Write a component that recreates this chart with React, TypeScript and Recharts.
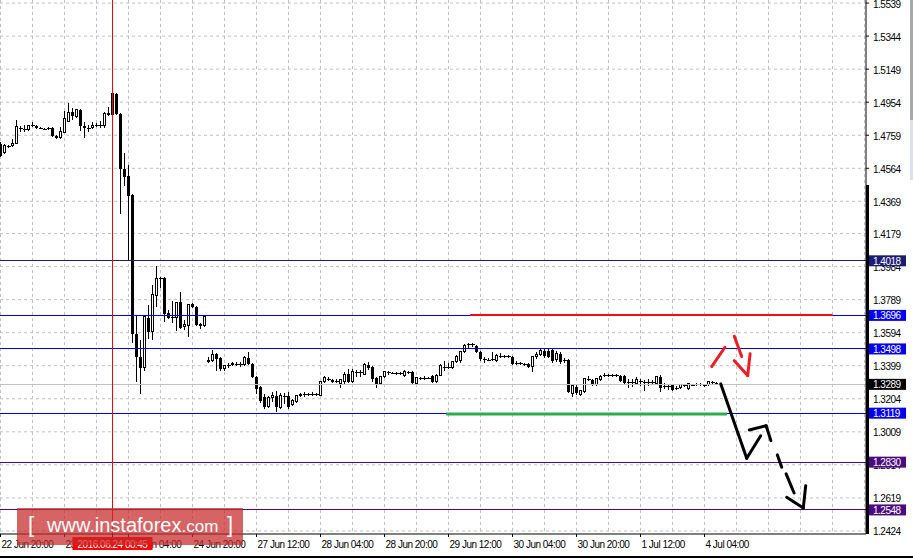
import React from "react";
import { ComposedChart, Bar, XAxis, YAxis, CartesianGrid, ReferenceLine } from "recharts";

// GBP/USD H1 candles, 22 Jun 20:00 .. 4 Jul 11:00 (one entry per hour)
const OPEN = [
  1.4707, 1.466, 1.469, 1.4696, 1.4713, 1.4802, 1.479, 1.479, 1.482, 1.4814,
  1.4802, 1.4796, 1.4802, 1.4802, 1.4755, 1.4743, 1.4778, 1.4843, 1.4896, 1.4867,
  1.4908, 1.4814, 1.4802, 1.4802, 1.4814, 1.482, 1.4814, 1.4879, 1.5008, 1.5003,
  1.4885, 1.456, 1.4519, 1.4407, 1.3586, 1.3451, 1.3386, 1.3681, 1.3598, 1.3811,
  1.3911, 1.3917, 1.371, 1.3681, 1.3681, 1.3775, 1.3628, 1.3634, 1.3763, 1.3746,
  1.3646, 1.3634, 1.3433, 1.3427, 1.3468, 1.3445, 1.338, 1.3398, 1.3404, 1.3404,
  1.3409, 1.3404, 1.3445, 1.3409, 1.3333, 1.3274, 1.3215, 1.3156, 1.3209, 1.3221,
  1.315, 1.3221, 1.3221, 1.3173, 1.3185, 1.3221, 1.3232, 1.3232, 1.3226, 1.3232,
  1.3226, 1.3303, 1.3315, 1.3315, 1.3309, 1.3292, 1.3303, 1.335, 1.3303, 1.3362,
  1.3356, 1.335, 1.3404, 1.3392, 1.3327, 1.3297, 1.3333, 1.3356, 1.3356, 1.3356,
  1.335, 1.3339, 1.3362, 1.3362, 1.3297, 1.3327, 1.3321, 1.3327, 1.3339, 1.3303,
  1.3344, 1.3392, 1.3392, 1.3386, 1.3421, 1.3427, 1.348, 1.3521, 1.3527, 1.3516,
  1.348, 1.3439, 1.3433, 1.3433, 1.3427, 1.3457, 1.3451, 1.3457, 1.3451, 1.3409,
  1.3415, 1.3409, 1.3409, 1.3392, 1.3451, 1.3463, 1.3486, 1.3486, 1.3492, 1.3433,
  1.3468, 1.3427, 1.3433, 1.3238, 1.3274, 1.3232, 1.3244, 1.3321, 1.3315, 1.3286,
  1.3315, 1.3339, 1.3344, 1.3339, 1.3344, 1.3339, 1.3339, 1.3297, 1.3303, 1.3297,
  1.3309, 1.3303, 1.3297, 1.3303, 1.3292, 1.3333, 1.3274, 1.328, 1.3286, 1.3262,
  1.3268, 1.3286, 1.3262, 1.3286, 1.3286, 1.3292, 1.3286, 1.3286, 1.3303, 1.3297,
];
const HIGH = [
  1.4719, 1.4707, 1.4702, 1.4737, 1.4849, 1.4814, 1.482, 1.482, 1.4837, 1.482,
  1.4808, 1.4802, 1.4808, 1.4808, 1.4761, 1.4808, 1.4902, 1.4949, 1.492, 1.4914,
  1.4914, 1.4837, 1.482, 1.4837, 1.4831, 1.4843, 1.4896, 1.4926, 1.5014, 1.5008,
  1.489, 1.4654, 1.4584, 1.4413, 1.3693, 1.3551, 1.3693, 1.3758, 1.3876, 1.3988,
  1.3923, 1.392, 1.3728, 1.3781, 1.3775, 1.3834, 1.3669, 1.3763, 1.3769, 1.3752,
  1.3651, 1.3693, 1.3451, 1.3492, 1.3474, 1.3451, 1.3404, 1.3415, 1.3421, 1.3421,
  1.3421, 1.3457, 1.348, 1.3415, 1.3339, 1.328, 1.3232, 1.3221, 1.3244, 1.325,
  1.3238, 1.3238, 1.3244, 1.3203, 1.3226, 1.3238, 1.3244, 1.3238, 1.3244, 1.3238,
  1.3309, 1.3339, 1.3333, 1.3321, 1.3321, 1.3321, 1.3362, 1.338, 1.338, 1.3374,
  1.3374, 1.3415, 1.3421, 1.3398, 1.3333, 1.3339, 1.3368, 1.3368, 1.3362, 1.3362,
  1.3362, 1.3374, 1.3368, 1.3368, 1.3333, 1.3333, 1.3339, 1.3333, 1.3344, 1.335,
  1.3409, 1.3427, 1.3415, 1.3427, 1.3463, 1.3486, 1.3527, 1.3533, 1.3533, 1.3521,
  1.3486, 1.3451, 1.3445, 1.348, 1.3468, 1.3474, 1.3463, 1.3463, 1.3457, 1.3427,
  1.3421, 1.3415, 1.3415, 1.3457, 1.348, 1.3498, 1.3498, 1.3498, 1.3498, 1.3486,
  1.348, 1.3445, 1.3439, 1.3286, 1.3286, 1.3256, 1.3327, 1.3339, 1.3321, 1.3327,
  1.3344, 1.3356, 1.335, 1.335, 1.335, 1.3344, 1.3344, 1.3321, 1.3321, 1.3333,
  1.3321, 1.3315, 1.3321, 1.3315, 1.3339, 1.3344, 1.3297, 1.3292, 1.3292, 1.328,
  1.3292, 1.3292, 1.3297, 1.3292, 1.3297, 1.3297, 1.3292, 1.3309, 1.3309, 1.3303,
];
const LOW = [
  1.4631, 1.4648, 1.4684, 1.469, 1.4707, 1.4778, 1.4778, 1.4784, 1.4808, 1.4796,
  1.4796, 1.479, 1.479, 1.4749, 1.4737, 1.4737, 1.4772, 1.4837, 1.4849, 1.4861,
  1.4784, 1.4743, 1.4778, 1.4796, 1.4808, 1.4802, 1.4802, 1.4873, 1.4873, 1.4879,
  1.4294, 1.446, 1.4023, 1.3533, 1.3303, 1.3232, 1.3368, 1.3557, 1.3551, 1.3746,
  1.3858, 1.3657, 1.3675, 1.3651, 1.3604, 1.3616, 1.361, 1.3569, 1.374, 1.3634,
  1.3616, 1.3628, 1.3415, 1.3421, 1.3368, 1.3368, 1.3368, 1.3386, 1.3398, 1.3398,
  1.3392, 1.3398, 1.3404, 1.3327, 1.3232, 1.3179, 1.3144, 1.315, 1.3185, 1.3126,
  1.3144, 1.3173, 1.3144, 1.3162, 1.3179, 1.3215, 1.3215, 1.3221, 1.3221, 1.3221,
  1.3221, 1.3297, 1.3309, 1.3297, 1.3297, 1.3268, 1.3292, 1.3297, 1.3297, 1.3333,
  1.3333, 1.3344, 1.3374, 1.3303, 1.3268, 1.3286, 1.3327, 1.3344, 1.335, 1.3344,
  1.3344, 1.3333, 1.335, 1.3292, 1.3292, 1.3315, 1.3315, 1.3321, 1.3297, 1.3297,
  1.3339, 1.3368, 1.338, 1.338, 1.3415, 1.3415, 1.3474, 1.3504, 1.351, 1.3474,
  1.3427, 1.3415, 1.3427, 1.3427, 1.3421, 1.3445, 1.3445, 1.3445, 1.3404, 1.3404,
  1.3404, 1.3398, 1.3386, 1.3362, 1.3439, 1.3457, 1.3445, 1.3445, 1.3415, 1.3421,
  1.3409, 1.3415, 1.3238, 1.3215, 1.3226, 1.3221, 1.3238, 1.3309, 1.328, 1.328,
  1.3309, 1.3333, 1.3333, 1.3333, 1.3333, 1.3303, 1.3292, 1.3268, 1.3274, 1.3286,
  1.328, 1.325, 1.328, 1.3292, 1.3286, 1.3244, 1.3262, 1.3256, 1.325, 1.3256,
  1.3262, 1.3274, 1.3256, 1.328, 1.328, 1.328, 1.3274, 1.328, 1.3292, 1.3286,
];
const CLOSE = [
  1.4637, 1.4696, 1.4696, 1.4713, 1.4808, 1.4796, 1.4796, 1.4814, 1.4814, 1.4802,
  1.48, 1.4794, 1.4796, 1.4755, 1.4743, 1.4784, 1.4855, 1.4896, 1.4873, 1.4908,
  1.4814, 1.4802, 1.4799, 1.4814, 1.482, 1.4814, 1.4885, 1.489, 1.4879, 1.4885,
  1.456, 1.4513, 1.4401, 1.3586, 1.3451, 1.3386, 1.3687, 1.3598, 1.3817, 1.3911,
  1.3917, 1.3704, 1.3681, 1.3684, 1.3772, 1.3622, 1.364, 1.376, 1.3746, 1.364,
  1.3634, 1.3687, 1.3421, 1.3468, 1.3439, 1.338, 1.3398, 1.3404, 1.3415, 1.3409,
  1.3404, 1.3445, 1.3409, 1.3333, 1.3262, 1.3191, 1.3156, 1.3209, 1.3221, 1.3156,
  1.3221, 1.3215, 1.3156, 1.3191, 1.3221, 1.3232, 1.3235, 1.3226, 1.3232, 1.3226,
  1.3303, 1.3327, 1.3321, 1.3303, 1.3304, 1.3315, 1.335, 1.3303, 1.3362, 1.3356,
  1.3362, 1.3409, 1.3386, 1.3321, 1.3292, 1.3333, 1.3362, 1.3362, 1.3353, 1.335,
  1.3356, 1.3362, 1.3356, 1.3297, 1.3327, 1.3321, 1.3327, 1.3324, 1.3303, 1.3344,
  1.3398, 1.3389, 1.3394, 1.3421, 1.3451, 1.348, 1.3521, 1.3527, 1.3521, 1.348,
  1.3439, 1.3433, 1.3434, 1.3439, 1.3457, 1.3451, 1.3457, 1.3451, 1.3409, 1.3415,
  1.3409, 1.3404, 1.3392, 1.3451, 1.3468, 1.3486, 1.3457, 1.3451, 1.3427, 1.3474,
  1.3421, 1.3433, 1.3244, 1.328, 1.3238, 1.325, 1.3321, 1.3315, 1.3286, 1.3321,
  1.3333, 1.3344, 1.3339, 1.3344, 1.3339, 1.3309, 1.3297, 1.3303, 1.33, 1.3315,
  1.3306, 1.3297, 1.3303, 1.33, 1.3333, 1.3268, 1.328, 1.3274, 1.3256, 1.3268,
  1.3286, 1.3283, 1.3292, 1.3287, 1.3292, 1.3286, 1.3283, 1.3303, 1.3297, 1.3289,
];

const TIME_LABELS = [
  "22 Jun 20:00", "23 Jun 12:00", "24 Jun 04:00", "24 Jun 20:00", "27 Jun 12:00", "28 Jun 04:00",
  "28 Jun 20:00", "29 Jun 12:00", "30 Jun 04:00", "30 Jun 20:00", "1 Jul 12:00", "4 Jul 04:00",
];
const LABEL_BARS = [0, 16, 32, 48, 64, 80, 96, 112, 128, 144, 160, 176];
const GRID_BARS = [0, 8, 16, 24, 32, 40, 48, 56, 64, 72, 80, 88, 96, 104, 112, 120, 128, 136, 144, 152, 160, 168, 176, 184, 192, 200, 208, 216];
const PRICE_TICKS = [
  1.5539, 1.5344, 1.5149, 1.4954, 1.4759, 1.4564, 1.4369, 1.4179, 1.3984, 1.3789,
  1.3594, 1.3399, 1.3204, 1.3009, 1.2814, 1.2619, 1.2424,
];

const LEVEL_PRICES = [1.4018, 1.3696, 1.3498, 1.3119, 1.283, 1.2548];
const LEVEL_COLORS = ["#1c1c72", "#0000f0", "#0000f0", "#0000f0", "#4b0a7e", "#4b0a7e"];
const BID = 1.3289;

const EVENT_BAR = 28;
const EVENT_LABEL = "2016.06.24 00:45";

// drawn trend lines: [bar, price] pairs
const RESISTANCE: [number, number][] = [[117.4, 1.3699], [208, 1.3699]];
const SUPPORT: [number, number][] = [[111.4, 1.3114], [181.6, 1.3114]];
const BLACK_PATHS: [number, number][][] = [
  [[180.05, 1.3292], [186.55, 1.2853], [190.05, 1.2986]],
  [[187.2, 1.302], [191.4, 1.3045], [192.6, 1.2957]],
  [[194.2, 1.2873], [195.3, 1.28]],
  [[196.4, 1.2761], [198.4, 1.2648]],
  [[196.55, 1.2623], [200.7, 1.256], [201.3, 1.2691]],
];
const RED_PATHS: [number, number][][] = [
  [[177.8, 1.3394], [181.1, 1.3508]],
  [[183.45, 1.3573], [185.3, 1.3453]],
  [[183.45, 1.3429], [186.8, 1.3341], [187.4, 1.3469]],
];

const FONT = "'Liberation Sans', Arial, sans-serif";

const candles = OPEN.map((o, i) => ({ i, open: o, high: HIGH[i], low: LOW[i], close: CLOSE[i] }));
// tags go last so they are painted over the plain tick labels
const Y_TICKS = [...PRICE_TICKS, BID, ...LEVEL_PRICES];
const X_TICKS = [...LABEL_BARS, EVENT_BAR];

function Candle(props: any) {
  const { x, y, width, height, payload } = props;
  if (!payload) return null;
  const { open, close, high, low } = payload;
  const top = Math.min(y, y + height);
  const h = Math.abs(height);
  const k = h / (high - low);
  const cx = Math.round(x + width / 2 - 0.5) + 0.5;
  const yO = top + (high - open) * k;
  const yC = top + (high - close) * k;
  const bTop = Math.min(yO, yC);
  const bBot = Math.max(yO, yC);
  const bull = close > open;
  return (
    <g shapeRendering="crispEdges">
      <line x1={cx} x2={cx} y1={top} y2={top + h} stroke="#000" strokeWidth={1} />
      {bBot - bTop < 1.2 ? (
        <line x1={cx - 2} x2={cx + 2} y1={Math.round(bTop) + 0.5} y2={Math.round(bTop) + 0.5} stroke="#000" />
      ) : bull ? (
        <rect x={cx - 1} y={bTop} width={2} height={bBot - bTop} fill="#fff" stroke="#000" strokeWidth={1} />
      ) : (
        <rect x={cx - 1.5} y={bTop} width={3} height={bBot - bTop} fill="#000" />
      )}
    </g>
  );
}

function PriceTick({ x, y, payload }: any) {
  const v = payload.value;
  const lvl = LEVEL_PRICES.indexOf(v);
  const color = v === BID ? "#000" : lvl >= 0 ? LEVEL_COLORS[lvl] : null;
  if (color) {
    return (
      <g>
        <rect x={x - 3} y={y - 5.5} width={38} height={11} fill={color} />
        <text x={x + 2} y={y + 4} fontSize={10} fontFamily={FONT} letterSpacing={-0.5} fill="#fff">
          {v.toFixed(4)}
        </text>
      </g>
    );
  }
  return (
    <text x={x + 2} y={y + 4.5} fontSize={10} fontFamily={FONT} letterSpacing={-0.5} fill="#000">
      {v.toFixed(4)}
    </text>
  );
}

function TimeTick({ x, y, payload }: any) {
  if (payload.value === EVENT_BAR) {
    return (
      <g>
        <rect x={x - 40} y={y - 2} width={80} height={13} fill="#ff0000" />
        <text x={x} y={y + 8.5} textAnchor="middle" fontSize={10} fontFamily={FONT} letterSpacing={-0.5} fill="#fff">
          {EVENT_LABEL}
        </text>
      </g>
    );
  }
  const label = TIME_LABELS[LABEL_BARS.indexOf(payload.value)];
  return (
    <text x={x + 1} y={y + 8.5} fontSize={10} fontFamily={FONT} letterSpacing={-0.5} fill="#000">
      {label}
    </text>
  );
}

function strokes(paths: [number, number][][], color: string, width: number, prefix: string) {
  const out: React.ReactNode[] = [];
  paths.forEach((p, pi) => {
    for (let j = 0; j < p.length - 1; j++) {
      out.push(
        <ReferenceLine
          key={`${prefix}-${pi}-${j}`}
          segment={[{ x: p[j][0], y: p[j][1] }, { x: p[j + 1][0], y: p[j + 1][1] }]}
          stroke={color}
          strokeWidth={width}
          strokeLinecap="round"
          ifOverflow="visible"
        />
      );
    }
  });
  return out;
}

export default function App() {
  return (
    <div style={{ position: "absolute", left: 0, top: 0, width: 913, height: 558, background: "#fff", overflow: "hidden" }}>
      <ComposedChart width={913} height={558} data={candles} margin={{ top: 0, right: 0, bottom: 0, left: 0 }}>
        <CartesianGrid
          stroke="#c0c0c0"
          strokeDasharray="3 3"
          verticalValues={GRID_BARS}
          horizontalValues={PRICE_TICKS}
        />
        <XAxis
          type="number"
          dataKey="i"
          domain={[-0.125, 216.375]}
          ticks={X_TICKS}
          interval={0}
          allowDataOverflow
          height={24}
          tickSize={3}
          tick={<TimeTick />}
          axisLine={{ stroke: "#000" }}
          tickLine={{ stroke: "#000" }}
        />
        <YAxis
          orientation="right"
          domain={[1.2406, 1.5557]}
          ticks={Y_TICKS}
          interval={0}
          allowDataOverflow
          width={47}
          tickSize={3}
          tick={<PriceTick />}
          axisLine={{ stroke: "#000" }}
          tickLine={{ stroke: "#000" }}
        />
        <ReferenceLine y={BID} stroke="#c0c0c0" shapeRendering="crispEdges" />
        {LEVEL_PRICES.map((p, k) => (
          <ReferenceLine key={p} y={p} stroke={LEVEL_COLORS[k]} shapeRendering="crispEdges" />
        ))}
        <ReferenceLine x={EVENT_BAR} stroke="#ff0000" shapeRendering="crispEdges" />
        <Bar dataKey={(d: any) => [d.low, d.high]} shape={<Candle />} barSize={3} isAnimationActive={false} />
        <ReferenceLine
          segment={[{ x: RESISTANCE[0][0], y: RESISTANCE[0][1] }, { x: RESISTANCE[1][0], y: RESISTANCE[1][1] }]}
          stroke="#f01010"
          strokeWidth={2}
          ifOverflow="visible"
        />
        <ReferenceLine
          segment={[{ x: SUPPORT[0][0], y: SUPPORT[0][1] }, { x: SUPPORT[1][0], y: SUPPORT[1][1] }]}
          stroke="#2eaa50"
          strokeWidth={3}
          ifOverflow="visible"
        />
        {strokes(BLACK_PATHS, "#000", 3, "b")}
        {strokes(RED_PATHS, "#ee1c24", 3, "r")}
      </ComposedChart>
      {/* axis bar and neighbouring window edge */}
      <div style={{ position: "absolute", left: 866, top: 185, width: 3, height: 349, background: "#000" }} />
      <div style={{ position: "absolute", left: 910, top: 0, width: 3, height: 120, background: "#a8a8a8" }} />
      <div style={{ position: "absolute", left: 910, top: 120, width: 3, height: 60, background: "#d9e1ea" }} />
      <div style={{ position: "absolute", left: 0, top: 556, width: 913, height: 2, background: "#000" }} />
      {/* watermark */}
      <div
        style={{
          position: "absolute",
          left: 17,
          top: 508,
          width: 226,
          height: 37,
          background: "rgba(200, 40, 40, 0.72)",
          color: "#fff",
          fontFamily: FONT,
          whiteSpace: "nowrap",
          lineHeight: "34px",
        }}
      >
        <span style={{ position: "absolute", left: 11, top: 0, fontSize: 22 }}>[</span>
        <span style={{ position: "absolute", left: 30, top: 0, fontSize: 20 }}>
          www.instaforex<span style={{ fontSize: 17 }}>.com</span>
        </span>
        <span style={{ position: "absolute", left: 210, top: 0, fontSize: 22 }}>]</span>
      </div>
    </div>
  );
}
